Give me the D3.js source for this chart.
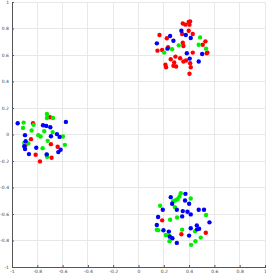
<!DOCTYPE html>
<html><head><meta charset="utf-8">
<script src="https://cdn.jsdelivr.net/npm/d3@7"></script>
<style>body{margin:0;background:#fff}svg{display:block}</style>
</head><body>
<script>
const ticks = [-1,-0.8,-0.6,-0.4,-0.2,0,0.2,0.4,0.6,0.8,1];
const redX = [0.35,0.371,0.397,0.408,0.403,0.397,0.345,0.429,0.166,0.224,0.35,0.355,0.529,0.508,0.545,0.539,0.15,0.187,0.234,0.255,0.282,0.276,0.213,0.218,0.292,0.329,0.355,0.376,0.429,0.408,0.413,0.403,0.297,
  -0.834,-0.7,-0.85,-0.895,-0.692,-0.639,-0.813,-0.779,-0.687,
  0.187,0.339,0.532];
const redY = [0.838,0.829,0.849,0.854,0.829,0.783,0.758,0.758,0.751,0.726,0.693,0.668,0.703,0.677,0.618,0.613,0.633,0.638,0.658,0.568,0.543,0.518,0.526,0.508,0.588,0.576,0.551,0.558,0.618,0.538,0.508,0.458,0.513,
  0.085,0.13,-0.035,-0.085,-0.073,-0.093,-0.153,-0.203,-0.175,
  -0.648,-0.753,-0.741];
const greenX = [0.487,0.476,0.534,0.203,0.266,0.318,
  -0.908,-0.913,-0.829,-0.845,-0.724,-0.724,-0.676,-0.679,-0.745,-0.792,-0.774,-0.597,-0.903,-0.871,-0.718,-0.758,-0.582,-0.724,-0.722,
  0.334,0.324,0.308,0.274,0.295,0.413,0.171,0.287,0.534,0.25,0.305,0.145,0.155,0.216,0.245,0.345,0.447,0.492,0.45,0.416,0.245];
const greenY = [0.733,0.677,0.648,0.618,0.643,0.673,
  0.09,0.05,0.073,0.03,0.155,0.125,0.125,0.018,0.025,-0.005,-0.015,-0.015,-0.063,-0.068,-0.048,-0.103,-0.078,-0.153,-0.168,
  -0.443,-0.468,-0.488,-0.503,-0.496,-0.483,-0.538,-0.548,-0.608,-0.643,-0.626,-0.718,-0.722,-0.758,-0.806,-0.718,-0.731,-0.778,-0.806,-0.833,-0.765];
const blueX = [0.339,0.374,0.413,0.145,0.25,0.276,0.503,0.229,0.382,0.405,0.476,
  -0.955,-0.755,-0.729,-0.697,-0.897,-0.692,-0.645,-0.624,-0.574,-0.892,-0.903,-0.897,-0.808,-0.616,-0.634,-0.866,-0.726,
  0.371,0.255,0.266,0.368,0.4,0.303,0.192,0.35,0.387,0.413,0.476,0.518,0.345,0.155,0.561,0.145,0.197,0.24,0.247,0.303,0.268,0.413,0.463,0.479,0.461,0.4];
const blueY = [0.783,0.751,0.728,0.688,0.743,0.708,0.608,0.648,0.613,0.573,0.551,
  0.085,0.07,0.065,0.055,-0.005,-0.013,0.003,-0.018,0.095,-0.05,-0.088,-0.11,-0.1,-0.115,-0.133,-0.148,-0.15,
  -0.448,-0.473,-0.523,-0.498,-0.523,-0.568,-0.568,-0.578,-0.583,-0.603,-0.568,-0.568,-0.618,-0.623,-0.663,-0.683,-0.723,-0.733,-0.771,-0.818,-0.783,-0.708,-0.716,-0.711,-0.686,-0.763];

const W = 266, H = 275;
const m = {left: 12, right: 1, top: 2, bottom: 8};
const svg = d3.select("body").append("svg").attr("width", W).attr("height", H);
const x = d3.scaleLinear().domain([-1,1]).range([m.left, W - m.right]);
const y = d3.scaleLinear().domain([-1,1]).range([H - m.bottom, m.top]);

// grid
svg.append("g").selectAll("line.gx").data(ticks).join("line")
  .attr("x1", d => x(d)).attr("x2", d => x(d)).attr("y1", y(-1)).attr("y2", y(1))
  .attr("stroke", "#e8e8e8").attr("stroke-width", 1).attr("shape-rendering","crispEdges");
svg.append("g").selectAll("line.gy").data(ticks).join("line")
  .attr("y1", d => y(d)).attr("y2", d => y(d)).attr("x1", x(-1)).attr("x2", x(1))
  .attr("stroke", "#e8e8e8").attr("stroke-width", 1).attr("shape-rendering","crispEdges");

const fmt = d => String(d);
const xAxis = svg.append("g").attr("transform", `translate(0,${y(-1)})`)
  .call(d3.axisBottom(x).tickValues(ticks).tickSizeInner(-2).tickSizeOuter(0).tickPadding(2.5).tickFormat(fmt));
const yAxis = svg.append("g").attr("transform", `translate(${x(-1)},0)`)
  .call(d3.axisLeft(y).tickValues(ticks).tickSizeInner(-2).tickSizeOuter(0).tickPadding(3).tickFormat(fmt));
[xAxis, yAxis].forEach(g => {
  g.select(".domain").attr("stroke", "#555").attr("shape-rendering","crispEdges");
  g.selectAll(".tick line").attr("stroke", "#555");
  g.selectAll("text").attr("font-family", "DejaVu Sans, sans-serif").attr("font-size", 4.5).attr("fill", "#444");
});

const series = [
  {c: "#ff0000", xs: redX, ys: redY},
  {c: "#00ee00", xs: greenX, ys: greenY},
  {c: "#0000ff", xs: blueX, ys: blueY}
];
series.forEach(s => {
  svg.append("g").selectAll("circle").data(s.xs.map((v,i) => [v, s.ys[i]])).join("circle")
    .attr("cx", d => x(d[0])).attr("cy", d => y(d[1])).attr("r", 2.2).attr("fill", s.c);
});
</script>
</body></html>
